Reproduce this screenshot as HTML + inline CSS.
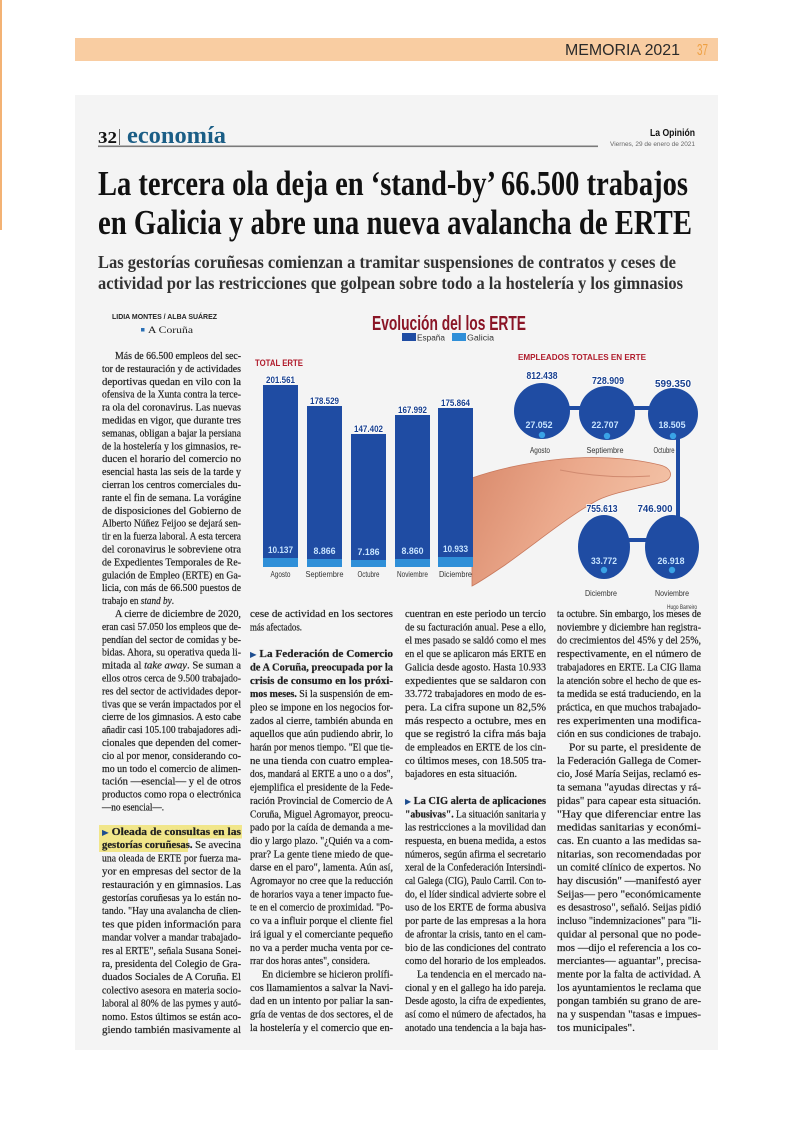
<!DOCTYPE html>
<html><head><meta charset="utf-8">
<style>
html,body{margin:0;padding:0;background:#fff;}
svg{display:block;}
.b{font-family:"Liberation Serif","DejaVu Serif",serif;font-size:10.5px;fill:#1e1e1e;stroke:#2a2a2a;stroke-width:0.22px;}
.bb{font-weight:bold;}
.s{font-family:"Liberation Sans","DejaVu Sans",sans-serif;}
.ar{font-family:"DejaVu Sans",sans-serif;fill:#1d4d8f;stroke:none;}
</style></head><body>
<svg width="794" height="1123" viewBox="0 0 794 1123" xmlns="http://www.w3.org/2000/svg">
<rect x="0" y="0" width="794" height="1123" fill="#ffffff"/>
<rect x="0" y="0" width="2" height="230" fill="#f3b274"/>
<!-- header bar -->
<rect x="75" y="38" width="643" height="23" fill="#f9cda2"/>
<text x="565" y="55" class="s" font-size="15.5" fill="#2a2a2a" textLength="115" lengthAdjust="spacingAndGlyphs">MEMORIA 2021</text>
<text x="697" y="55" class="s" font-size="15.5" fill="#eea043" textLength="11" lengthAdjust="spacingAndGlyphs">37</text>
<!-- clipping panel -->
<rect x="75" y="95" width="643" height="955" fill="#f4f4f4"/>
<!-- section header -->
<text x="98" y="143" font-family="Liberation Serif,serif" font-weight="bold" font-size="17" fill="#111" textLength="19" lengthAdjust="spacingAndGlyphs">32</text>
<rect x="119" y="129" width="1" height="16" fill="#666"/>
<text x="127" y="143" font-family="Liberation Serif,serif" font-weight="bold" font-size="24" fill="#1b5e86" textLength="99" lengthAdjust="spacingAndGlyphs">economía</text>
<rect x="98" y="145.5" width="500" height="1.6" fill="#7a7a7a"/>
<text x="695" y="136" text-anchor="end" class="s" font-weight="bold" font-size="10" fill="#111" textLength="45" lengthAdjust="spacingAndGlyphs">La Opinión</text>
<text x="695" y="146" text-anchor="end" class="s" font-size="6.5" fill="#666" textLength="85" lengthAdjust="spacingAndGlyphs">Viernes, 29 de enero de 2021</text>
<!-- headline -->
<text x="98" y="195" font-family="Liberation Serif,serif" font-weight="bold" font-size="35" fill="#111" textLength="590" lengthAdjust="spacingAndGlyphs">La tercera ola deja en ‘stand-by’ 66.500 trabajos</text>
<text x="98" y="234" font-family="Liberation Serif,serif" font-weight="bold" font-size="35" fill="#111" textLength="594" lengthAdjust="spacingAndGlyphs">en Galicia y abre una nueva avalancha de ERTE</text>
<text x="98" y="268" font-family="Liberation Serif,serif" font-weight="bold" font-size="18" fill="#333" textLength="578" lengthAdjust="spacingAndGlyphs">Las gestorías coruñesas comienzan a tramitar suspensiones de contratos y ceses de</text>
<text x="98" y="289" font-family="Liberation Serif,serif" font-weight="bold" font-size="18" fill="#333" textLength="585" lengthAdjust="spacingAndGlyphs">actividad por las restricciones que golpean sobre todo a la hostelería y los gimnasios</text>
<!-- byline -->
<text x="112" y="319" class="s" font-weight="bold" font-size="7" fill="#222" textLength="105" lengthAdjust="spacingAndGlyphs">LIDIA MONTES / ALBA SUÁREZ</text>
<rect x="141" y="328" width="3.5" height="3.5" fill="#2a6fb5"/>
<text x="148" y="333" font-family="Liberation Serif,serif" font-size="9.5" fill="#222" textLength="45" lengthAdjust="spacingAndGlyphs">A Coruña</text>

<!-- CHART -->
<text x="372" y="330" class="s" font-weight="bold" font-size="20" fill="#8a1526" textLength="154" lengthAdjust="spacingAndGlyphs">Evolución del los ERTE</text>
<rect x="402" y="333" width="14" height="8" fill="#1f4ca3"/>
<text x="417" y="340.5" class="s" font-size="8" fill="#333" textLength="28" lengthAdjust="spacingAndGlyphs">España</text>
<rect x="452" y="333" width="14" height="8" fill="#2f8fd8"/>
<text x="467" y="340.5" class="s" font-size="8" fill="#333" textLength="27" lengthAdjust="spacingAndGlyphs">Galicia</text>
<text x="255" y="366" class="s" font-weight="bold" font-size="9" fill="#b01c2c" textLength="48" lengthAdjust="spacingAndGlyphs">TOTAL ERTE</text>

<!-- hand -->
<defs>
<linearGradient id="sk" x1="0" y1="0" x2="1" y2="0.3">
<stop offset="0" stop-color="#d98a6c"/>
<stop offset="0.5" stop-color="#eba98c"/>
<stop offset="1" stop-color="#f3c2a6"/>
</linearGradient>
</defs>
<path d="M472,478 C500,468 540,460 575,458 C610,456 640,460 660,465 C673,468 674,479 663,482 C640,488 615,492 598,500 C570,515 540,540 505,565 C490,575 480,582 472,586 Z" fill="url(#sk)" stroke="#c8785c" stroke-width="0.8"/>
<path d="M560,470 C590,476 620,478 650,476" fill="none" stroke="#d08a70" stroke-width="1"/>

<!-- bars -->
<g fill="#1f4ca3">
<rect x="263" y="385" width="35" height="182"/>
<rect x="307" y="406" width="35" height="161"/>
<rect x="351" y="434" width="35" height="133"/>
<rect x="395" y="415" width="35" height="152"/>
<rect x="438" y="408" width="35" height="159"/>
</g>
<g fill="#2f8fd8">
<rect x="263" y="558" width="35" height="9"/>
<rect x="307" y="559" width="35" height="8"/>
<rect x="351" y="560" width="35" height="7"/>
<rect x="395" y="559" width="35" height="8"/>
<rect x="438" y="557" width="35" height="10"/>
</g>
<g class="s" font-weight="bold" font-size="9.5" fill="#173f8f" text-anchor="middle" stroke="#ffffff" stroke-width="1.5" paint-order="stroke">
<text x="280.5" y="383" textLength="29" lengthAdjust="spacingAndGlyphs">201.561</text>
<text x="324.5" y="404" textLength="29" lengthAdjust="spacingAndGlyphs">178.529</text>
<text x="368.5" y="432" textLength="29" lengthAdjust="spacingAndGlyphs">147.402</text>
<text x="412.5" y="413" textLength="29" lengthAdjust="spacingAndGlyphs">167.992</text>
<text x="455.5" y="406" textLength="29" lengthAdjust="spacingAndGlyphs">175.864</text>
</g>
<g class="s" font-weight="bold" font-size="9" fill="#c7e4ff" text-anchor="middle">
<text x="280.5" y="553" textLength="25" lengthAdjust="spacingAndGlyphs">10.137</text>
<text x="324.5" y="554" textLength="22" lengthAdjust="spacingAndGlyphs">8.866</text>
<text x="368.5" y="555" textLength="22" lengthAdjust="spacingAndGlyphs">7.186</text>
<text x="412.5" y="554" textLength="22" lengthAdjust="spacingAndGlyphs">8.860</text>
<text x="455.5" y="552" textLength="25" lengthAdjust="spacingAndGlyphs">10.933</text>
</g>
<g class="s" font-size="8" fill="#333" text-anchor="middle">
<text x="280.5" y="577" textLength="20" lengthAdjust="spacingAndGlyphs">Agosto</text>
<text x="324.5" y="577" textLength="38" lengthAdjust="spacingAndGlyphs">Septiembre</text>
<text x="368.5" y="577" textLength="22" lengthAdjust="spacingAndGlyphs">Octubre</text>
<text x="412.5" y="577" textLength="31" lengthAdjust="spacingAndGlyphs">Noviembre</text>
<text x="455.5" y="577" textLength="33" lengthAdjust="spacingAndGlyphs">Diciembre</text>
</g>

<!-- circles -->
<text x="518" y="360" class="s" font-weight="bold" font-size="8.5" fill="#b01c2c" textLength="128" lengthAdjust="spacingAndGlyphs">EMPLEADOS TOTALES EN ERTE</text>
<g fill="#1f4ca3">
<rect x="566" y="406" width="18" height="4"/>
<rect x="631" y="406" width="20" height="4"/>
<rect x="676" y="438" width="4" height="80"/>
<rect x="628" y="538" width="22" height="4"/>
<ellipse cx="542" cy="411" rx="28" ry="28"/>
<ellipse cx="607" cy="413" rx="28" ry="27"/>
<ellipse cx="673" cy="414" rx="25" ry="26"/>
<ellipse cx="604" cy="547" rx="26" ry="32"/>
<ellipse cx="672" cy="547" rx="27" ry="32"/>
</g>
<g fill="#3aa3e6">
<circle cx="542" cy="435" r="3.2"/>
<circle cx="607" cy="436" r="3.2"/>
<circle cx="673" cy="436" r="3.2"/>
<circle cx="604" cy="570" r="3.2"/>
<circle cx="672" cy="570" r="3.2"/>
</g>
<g class="s" font-weight="bold" font-size="10" fill="#173f8f" text-anchor="middle" stroke="#ffffff" stroke-width="1.5" paint-order="stroke">
<text x="542" y="379" textLength="31" lengthAdjust="spacingAndGlyphs">812.438</text>
<text x="608" y="384" textLength="32" lengthAdjust="spacingAndGlyphs">728.909</text>
<text x="673" y="387" textLength="36" lengthAdjust="spacingAndGlyphs">599.350</text>
<text x="602" y="512" textLength="31" lengthAdjust="spacingAndGlyphs">755.613</text>
<text x="655" y="512" textLength="35" lengthAdjust="spacingAndGlyphs">746.900</text>
</g>
<g class="s" font-weight="bold" font-size="9" fill="#c7e4ff" text-anchor="middle">
<text x="539" y="428" textLength="27" lengthAdjust="spacingAndGlyphs">27.052</text>
<text x="605" y="428" textLength="27" lengthAdjust="spacingAndGlyphs">22.707</text>
<text x="672" y="428" textLength="27" lengthAdjust="spacingAndGlyphs">18.505</text>
<text x="604" y="564" textLength="26" lengthAdjust="spacingAndGlyphs">33.772</text>
<text x="671" y="564" textLength="27" lengthAdjust="spacingAndGlyphs">26.918</text>
</g>
<g class="s" font-size="8" fill="#333" text-anchor="middle">
<text x="540" y="453" textLength="20" lengthAdjust="spacingAndGlyphs">Agosto</text>
<text x="605" y="453" textLength="37" lengthAdjust="spacingAndGlyphs">Septiembre</text>
<text x="664" y="453" textLength="21" lengthAdjust="spacingAndGlyphs">Octubre</text>
<text x="601" y="596" textLength="32" lengthAdjust="spacingAndGlyphs">Diciembre</text>
<text x="672" y="596" textLength="34" lengthAdjust="spacingAndGlyphs">Noviembre</text>
</g>
<text x="682" y="609" text-anchor="middle" class="s" font-size="6.5" fill="#333" textLength="30" lengthAdjust="spacingAndGlyphs">Hugo Barreiro</text>

<!-- COLUMN 1 upper -->
<text class="b" x="115" y="359" textLength="126" lengthAdjust="spacingAndGlyphs">Más de 66.500 empleos del sec-</text>
<text class="b" x="102" y="371.9" textLength="139" lengthAdjust="spacingAndGlyphs">tor de restauración y de actividades</text>
<text class="b" x="102" y="384.8" textLength="139" lengthAdjust="spacingAndGlyphs">deportivas quedan en vilo con la</text>
<text class="b" x="102" y="397.7" textLength="139" lengthAdjust="spacingAndGlyphs">ofensiva de la Xunta contra la terce-</text>
<text class="b" x="102" y="410.6" textLength="139" lengthAdjust="spacingAndGlyphs">ra ola del coronavirus. Las nuevas</text>
<text class="b" x="102" y="423.5" textLength="139" lengthAdjust="spacingAndGlyphs">medidas en vigor, que durante tres</text>
<text class="b" x="102" y="436.4" textLength="139" lengthAdjust="spacingAndGlyphs">semanas, obligan a bajar la persiana</text>
<text class="b" x="102" y="449.3" textLength="139" lengthAdjust="spacingAndGlyphs">de la hostelería y los gimnasios, re-</text>
<text class="b" x="102" y="462.2" textLength="139" lengthAdjust="spacingAndGlyphs">ducen el horario del comercio no</text>
<text class="b" x="102" y="475.1" textLength="139" lengthAdjust="spacingAndGlyphs">esencial hasta las seis de la tarde y</text>
<text class="b" x="102" y="488" textLength="139" lengthAdjust="spacingAndGlyphs">cierran los centros comerciales du-</text>
<text class="b" x="102" y="500.9" textLength="139" lengthAdjust="spacingAndGlyphs">rante el fin de semana. La vorágine</text>
<text class="b" x="102" y="513.8" textLength="139" lengthAdjust="spacingAndGlyphs">de disposiciones del Gobierno de</text>
<text class="b" x="102" y="526.7" textLength="139" lengthAdjust="spacingAndGlyphs">Alberto Núñez Feijoo se dejará sen-</text>
<text class="b" x="102" y="539.6" textLength="139" lengthAdjust="spacingAndGlyphs">tir en la fuerza laboral. A esta tercera</text>
<text class="b" x="102" y="552.5" textLength="139" lengthAdjust="spacingAndGlyphs">del coronavirus le sobreviene otra</text>
<text class="b" x="102" y="565.4" textLength="139" lengthAdjust="spacingAndGlyphs">de Expedientes Temporales de Re-</text>
<text class="b" x="102" y="578.3" textLength="139" lengthAdjust="spacingAndGlyphs">gulación de Empleo (ERTE) en Ga-</text>
<text class="b" x="102" y="591.2" textLength="139" lengthAdjust="spacingAndGlyphs">licia, con más de 66.500 puestos de</text>
<text class="b" x="102" y="604.1" textLength="72" lengthAdjust="spacingAndGlyphs">trabajo en <tspan font-style="italic">stand by</tspan>.</text>

<!-- COLUMN 1 lower -->
<text class="b" x="115" y="617" textLength="126" lengthAdjust="spacingAndGlyphs">A cierre de diciembre de 2020,</text>
<text class="b" x="102" y="629.9" textLength="139" lengthAdjust="spacingAndGlyphs">eran casi 57.050 los empleos que de-</text>
<text class="b" x="102" y="642.8" textLength="139" lengthAdjust="spacingAndGlyphs">pendían del sector de comidas y be-</text>
<text class="b" x="102" y="655.7" textLength="139" lengthAdjust="spacingAndGlyphs">bidas. Ahora, su operativa queda li-</text>
<text class="b" x="102" y="668.6" textLength="139" lengthAdjust="spacingAndGlyphs">mitada al <tspan font-style="italic">take away</tspan>. Se suman a</text>
<text class="b" x="102" y="681.5" textLength="139" lengthAdjust="spacingAndGlyphs">ellos otros cerca de 9.500 trabajado-</text>
<text class="b" x="102" y="694.4" textLength="139" lengthAdjust="spacingAndGlyphs">res del sector de actividades depor-</text>
<text class="b" x="102" y="707.3" textLength="139" lengthAdjust="spacingAndGlyphs">tivas que se verán impactados por el</text>
<text class="b" x="102" y="720.2" textLength="139" lengthAdjust="spacingAndGlyphs">cierre de los gimnasios. A esto cabe</text>
<text class="b" x="102" y="733.1" textLength="139" lengthAdjust="spacingAndGlyphs">añadir casi 105.100 trabajadores adi-</text>
<text class="b" x="102" y="746" textLength="139" lengthAdjust="spacingAndGlyphs">cionales que dependen del comer-</text>
<text class="b" x="102" y="758.9" textLength="139" lengthAdjust="spacingAndGlyphs">cio al por menor, considerando co-</text>
<text class="b" x="102" y="771.8" textLength="139" lengthAdjust="spacingAndGlyphs">mo un todo el comercio de alimen-</text>
<text class="b" x="102" y="784.7" textLength="139" lengthAdjust="spacingAndGlyphs">tación —esencial— y el de otros</text>
<text class="b" x="102" y="797.6" textLength="139" lengthAdjust="spacingAndGlyphs">productos como ropa o electrónica</text>
<text class="b" x="102" y="810.5" textLength="62" lengthAdjust="spacingAndGlyphs">—no esencial—.</text>

<!-- Oleada -->
<rect x="99" y="825" width="143" height="13.5" fill="#f1e68a"/>
<rect x="99" y="838.5" width="89" height="13.5" fill="#f1e68a"/>
<text class="b" x="102" y="835" textLength="139" lengthAdjust="spacingAndGlyphs"><tspan class="ar" font-size="8">▶</tspan><tspan class="bb"> Oleada de consultas en las</tspan></text>
<text class="b" x="102" y="848.2" textLength="139" lengthAdjust="spacingAndGlyphs"><tspan class="bb">gestorías coruñesas.</tspan> Se avecina</text>
<text class="b" x="102" y="861.4" textLength="139" lengthAdjust="spacingAndGlyphs">una oleada de ERTE por fuerza ma-</text>
<text class="b" x="102" y="874.6" textLength="139" lengthAdjust="spacingAndGlyphs">yor en empresas del sector de la</text>
<text class="b" x="102" y="887.8" textLength="139" lengthAdjust="spacingAndGlyphs">restauración y en gimnasios. Las</text>
<text class="b" x="102" y="901" textLength="139" lengthAdjust="spacingAndGlyphs">gestorías coruñesas ya lo están no-</text>
<text class="b" x="102" y="914.2" textLength="139" lengthAdjust="spacingAndGlyphs">tando. "Hay una avalancha de clien-</text>
<text class="b" x="102" y="927.4" textLength="139" lengthAdjust="spacingAndGlyphs">tes que piden información para</text>
<text class="b" x="102" y="940.6" textLength="139" lengthAdjust="spacingAndGlyphs">mandar volver a mandar trabajado-</text>
<text class="b" x="102" y="953.8" textLength="139" lengthAdjust="spacingAndGlyphs">res al ERTE", señala Susana Sonei-</text>
<text class="b" x="102" y="967" textLength="139" lengthAdjust="spacingAndGlyphs">ra, presidenta del Colegio de Gra-</text>
<text class="b" x="102" y="980.2" textLength="139" lengthAdjust="spacingAndGlyphs">duados Sociales de A Coruña. El</text>
<text class="b" x="102" y="993.4" textLength="139" lengthAdjust="spacingAndGlyphs">colectivo asesora en materia socio-</text>
<text class="b" x="102" y="1006.6" textLength="139" lengthAdjust="spacingAndGlyphs">laboral al 80% de las pymes y autó-</text>
<text class="b" x="102" y="1019.8" textLength="139" lengthAdjust="spacingAndGlyphs">nomo. Estos últimos se están aco-</text>
<text class="b" x="102" y="1033" textLength="139" lengthAdjust="spacingAndGlyphs">giendo también masivamente al</text>

<!-- COLUMN 2 -->
<text class="b" x="250" y="617" textLength="143" lengthAdjust="spacingAndGlyphs">cese de actividad en los sectores</text>
<text class="b" x="250" y="630.35" textLength="52" lengthAdjust="spacingAndGlyphs">más afectados.</text>
<text class="b" x="250" y="657.05" textLength="143" lengthAdjust="spacingAndGlyphs"><tspan class="ar" font-size="8">▶</tspan><tspan class="bb"> La Federación de Comercio</tspan></text>
<text class="b bb" x="250" y="670.4" textLength="143" lengthAdjust="spacingAndGlyphs">de A Coruña, preocupada por la</text>
<text class="b bb" x="250" y="683.75" textLength="143" lengthAdjust="spacingAndGlyphs">crisis de consumo en los próxi-</text>
<text class="b" x="250" y="697.1" textLength="143" lengthAdjust="spacingAndGlyphs"><tspan class="bb">mos meses.</tspan> Si la suspensión de em-</text>
<text class="b" x="250" y="710.45" textLength="143" lengthAdjust="spacingAndGlyphs">pleo se impone en los negocios for-</text>
<text class="b" x="250" y="723.8" textLength="143" lengthAdjust="spacingAndGlyphs">zados al cierre, también abunda en</text>
<text class="b" x="250" y="737.15" textLength="143" lengthAdjust="spacingAndGlyphs">aquellos que aún pudiendo abrir, lo</text>
<text class="b" x="250" y="750.5" textLength="143" lengthAdjust="spacingAndGlyphs">harán por menos tiempo. "El que tie-</text>
<text class="b" x="250" y="763.85" textLength="143" lengthAdjust="spacingAndGlyphs">ne una tienda con cuatro emplea-</text>
<text class="b" x="250" y="777.2" textLength="143" lengthAdjust="spacingAndGlyphs">dos, mandará al ERTE a uno o a dos",</text>
<text class="b" x="250" y="790.55" textLength="143" lengthAdjust="spacingAndGlyphs">ejemplifica el presidente de la Fede-</text>
<text class="b" x="250" y="803.9" textLength="143" lengthAdjust="spacingAndGlyphs">ración Provincial de Comercio de A</text>
<text class="b" x="250" y="817.25" textLength="143" lengthAdjust="spacingAndGlyphs">Coruña, Miguel Agromayor, preocu-</text>
<text class="b" x="250" y="830.6" textLength="143" lengthAdjust="spacingAndGlyphs">pado por la caída de demanda a me-</text>
<text class="b" x="250" y="843.95" textLength="143" lengthAdjust="spacingAndGlyphs">dio y largo plazo. "¿Quién va a com-</text>
<text class="b" x="250" y="857.3" textLength="143" lengthAdjust="spacingAndGlyphs">prar? La gente tiene miedo de que-</text>
<text class="b" x="250" y="870.65" textLength="143" lengthAdjust="spacingAndGlyphs">darse en el paro", lamenta. Aún así,</text>
<text class="b" x="250" y="884" textLength="143" lengthAdjust="spacingAndGlyphs">Agromayor no cree que la reducción</text>
<text class="b" x="250" y="897.35" textLength="143" lengthAdjust="spacingAndGlyphs">de horarios vaya a tener impacto fue-</text>
<text class="b" x="250" y="910.7" textLength="143" lengthAdjust="spacingAndGlyphs">te en el comercio de proximidad. "Po-</text>
<text class="b" x="250" y="924.05" textLength="143" lengthAdjust="spacingAndGlyphs">co va a influir porque el cliente fiel</text>
<text class="b" x="250" y="937.4" textLength="143" lengthAdjust="spacingAndGlyphs">irá igual y el comerciante pequeño</text>
<text class="b" x="250" y="950.75" textLength="143" lengthAdjust="spacingAndGlyphs">no va a perder mucha venta por ce-</text>
<text class="b" x="250" y="964.1" textLength="120" lengthAdjust="spacingAndGlyphs">rrar dos horas antes", considera.</text>
<text class="b" x="262" y="977.45" textLength="131" lengthAdjust="spacingAndGlyphs">En diciembre se hicieron prolífi-</text>
<text class="b" x="250" y="990.8" textLength="143" lengthAdjust="spacingAndGlyphs">cos llamamientos a salvar la Navi-</text>
<text class="b" x="250" y="1004.15" textLength="143" lengthAdjust="spacingAndGlyphs">dad en un intento por paliar la san-</text>
<text class="b" x="250" y="1017.5" textLength="143" lengthAdjust="spacingAndGlyphs">gría de ventas de dos sectores, el de</text>
<text class="b" x="250" y="1030.85" textLength="143" lengthAdjust="spacingAndGlyphs">la hostelería y el comercio que en-</text>

<!-- COLUMN 3 -->
<text class="b" x="405" y="617" textLength="141" lengthAdjust="spacingAndGlyphs">cuentran en este periodo un tercio</text>
<text class="b" x="405" y="630.35" textLength="141" lengthAdjust="spacingAndGlyphs">de su facturación anual. Pese a ello,</text>
<text class="b" x="405" y="643.7" textLength="141" lengthAdjust="spacingAndGlyphs">el mes pasado se saldó como el mes</text>
<text class="b" x="405" y="657.05" textLength="141" lengthAdjust="spacingAndGlyphs">en el que se aplicaron más ERTE en</text>
<text class="b" x="405" y="670.4" textLength="141" lengthAdjust="spacingAndGlyphs">Galicia desde agosto. Hasta 10.933</text>
<text class="b" x="405" y="683.75" textLength="141" lengthAdjust="spacingAndGlyphs">expedientes que se saldaron con</text>
<text class="b" x="405" y="697.1" textLength="141" lengthAdjust="spacingAndGlyphs">33.772 trabajadores en modo de es-</text>
<text class="b" x="405" y="710.45" textLength="141" lengthAdjust="spacingAndGlyphs">pera. La cifra supone un 82,5%</text>
<text class="b" x="405" y="723.8" textLength="141" lengthAdjust="spacingAndGlyphs">más respecto a octubre, mes en</text>
<text class="b" x="405" y="737.15" textLength="141" lengthAdjust="spacingAndGlyphs">que se registró la cifra más baja</text>
<text class="b" x="405" y="750.5" textLength="141" lengthAdjust="spacingAndGlyphs">de empleados en ERTE de los cin-</text>
<text class="b" x="405" y="763.85" textLength="141" lengthAdjust="spacingAndGlyphs">co últimos meses, con 18.505 tra-</text>
<text class="b" x="405" y="777.2" textLength="112" lengthAdjust="spacingAndGlyphs">bajadores en esta situación.</text>
<text class="b" x="405" y="803.9" textLength="141" lengthAdjust="spacingAndGlyphs"><tspan class="ar" font-size="8">▶</tspan><tspan class="bb"> La CIG alerta de aplicaciones</tspan></text>
<text class="b" x="405" y="817.25" textLength="141" lengthAdjust="spacingAndGlyphs"><tspan class="bb">"abusivas".</tspan> La situación sanitaria y</text>
<text class="b" x="405" y="830.6" textLength="141" lengthAdjust="spacingAndGlyphs">las restricciones a la movilidad dan</text>
<text class="b" x="405" y="843.95" textLength="141" lengthAdjust="spacingAndGlyphs">respuesta, en buena medida, a estos</text>
<text class="b" x="405" y="857.3" textLength="141" lengthAdjust="spacingAndGlyphs">números, según afirma el secretario</text>
<text class="b" x="405" y="870.65" textLength="141" lengthAdjust="spacingAndGlyphs">xeral de la Confederación Intersindi-</text>
<text class="b" x="405" y="884" textLength="141" lengthAdjust="spacingAndGlyphs">cal Galega (CIG), Paulo Carril. Con to-</text>
<text class="b" x="405" y="897.35" textLength="141" lengthAdjust="spacingAndGlyphs">do, el líder sindical advierte sobre el</text>
<text class="b" x="405" y="910.7" textLength="141" lengthAdjust="spacingAndGlyphs">uso de los ERTE de forma abusiva</text>
<text class="b" x="405" y="924.05" textLength="141" lengthAdjust="spacingAndGlyphs">por parte de las empresas a la hora</text>
<text class="b" x="405" y="937.4" textLength="141" lengthAdjust="spacingAndGlyphs">de afrontar la crisis, tanto en el cam-</text>
<text class="b" x="405" y="950.75" textLength="141" lengthAdjust="spacingAndGlyphs">bio de las condiciones del contrato</text>
<text class="b" x="405" y="964.1" textLength="141" lengthAdjust="spacingAndGlyphs">como del horario de los empleados.</text>
<text class="b" x="417" y="977.45" textLength="129" lengthAdjust="spacingAndGlyphs">La tendencia en el mercado na-</text>
<text class="b" x="405" y="990.8" textLength="141" lengthAdjust="spacingAndGlyphs">cional y en el gallego ha ido pareja.</text>
<text class="b" x="405" y="1004.15" textLength="141" lengthAdjust="spacingAndGlyphs">Desde agosto, la cifra de expedientes,</text>
<text class="b" x="405" y="1017.5" textLength="141" lengthAdjust="spacingAndGlyphs">así como el número de afectados, ha</text>
<text class="b" x="405" y="1030.85" textLength="141" lengthAdjust="spacingAndGlyphs">anotado una tendencia a la baja has-</text>

<!-- COLUMN 4 -->
<text class="b" x="557" y="617" textLength="144" lengthAdjust="spacingAndGlyphs">ta octubre. Sin embargo, los meses de</text>
<text class="b" x="557" y="630.35" textLength="144" lengthAdjust="spacingAndGlyphs">noviembre y diciembre han registra-</text>
<text class="b" x="557" y="643.7" textLength="144" lengthAdjust="spacingAndGlyphs">do crecimientos del 45% y del 25%,</text>
<text class="b" x="557" y="657.05" textLength="144" lengthAdjust="spacingAndGlyphs">respectivamente, en el número de</text>
<text class="b" x="557" y="670.4" textLength="144" lengthAdjust="spacingAndGlyphs">trabajadores en ERTE. La CIG llama</text>
<text class="b" x="557" y="683.75" textLength="144" lengthAdjust="spacingAndGlyphs">la atención sobre el hecho de que es-</text>
<text class="b" x="557" y="697.1" textLength="144" lengthAdjust="spacingAndGlyphs">ta medida se está traduciendo, en la</text>
<text class="b" x="557" y="710.45" textLength="144" lengthAdjust="spacingAndGlyphs">práctica, en que muchos trabajado-</text>
<text class="b" x="557" y="723.8" textLength="144" lengthAdjust="spacingAndGlyphs">res experimenten una modifica-</text>
<text class="b" x="557" y="737.15" textLength="144" lengthAdjust="spacingAndGlyphs">ción en sus condiciones de trabajo.</text>
<text class="b" x="569" y="750.5" textLength="132" lengthAdjust="spacingAndGlyphs">Por su parte, el presidente de</text>
<text class="b" x="557" y="763.85" textLength="144" lengthAdjust="spacingAndGlyphs">la Federación Gallega de Comer-</text>
<text class="b" x="557" y="777.2" textLength="144" lengthAdjust="spacingAndGlyphs">cio, José María Seijas, reclamó es-</text>
<text class="b" x="557" y="790.55" textLength="144" lengthAdjust="spacingAndGlyphs">ta semana "ayudas directas y rá-</text>
<text class="b" x="557" y="803.9" textLength="144" lengthAdjust="spacingAndGlyphs">pidas" para capear esta situación.</text>
<text class="b" x="557" y="817.25" textLength="144" lengthAdjust="spacingAndGlyphs">"Hay que diferenciar entre las</text>
<text class="b" x="557" y="830.6" textLength="144" lengthAdjust="spacingAndGlyphs">medidas sanitarias y económi-</text>
<text class="b" x="557" y="843.95" textLength="144" lengthAdjust="spacingAndGlyphs">cas. En cuanto a las medidas sa-</text>
<text class="b" x="557" y="857.3" textLength="144" lengthAdjust="spacingAndGlyphs">nitarias, son recomendadas por</text>
<text class="b" x="557" y="870.65" textLength="144" lengthAdjust="spacingAndGlyphs">un comité clínico de expertos. No</text>
<text class="b" x="557" y="884" textLength="144" lengthAdjust="spacingAndGlyphs">hay discusión" —manifestó ayer</text>
<text class="b" x="557" y="897.35" textLength="144" lengthAdjust="spacingAndGlyphs">Seijas— pero "económicamente</text>
<text class="b" x="557" y="910.7" textLength="144" lengthAdjust="spacingAndGlyphs">es desastroso", señaló. Seijas pidió</text>
<text class="b" x="557" y="924.05" textLength="144" lengthAdjust="spacingAndGlyphs">incluso "indemnizaciones" para "li-</text>
<text class="b" x="557" y="937.4" textLength="144" lengthAdjust="spacingAndGlyphs">quidar al personal que no pode-</text>
<text class="b" x="557" y="950.75" textLength="144" lengthAdjust="spacingAndGlyphs">mos —dijo el referencia a los co-</text>
<text class="b" x="557" y="964.1" textLength="144" lengthAdjust="spacingAndGlyphs">merciantes— aguantar", precisa-</text>
<text class="b" x="557" y="977.45" textLength="144" lengthAdjust="spacingAndGlyphs">mente por la falta de actividad. A</text>
<text class="b" x="557" y="990.8" textLength="144" lengthAdjust="spacingAndGlyphs">los ayuntamientos le reclama que</text>
<text class="b" x="557" y="1004.15" textLength="144" lengthAdjust="spacingAndGlyphs">pongan también su grano de are-</text>
<text class="b" x="557" y="1017.5" textLength="144" lengthAdjust="spacingAndGlyphs">na y suspendan "tasas e impues-</text>
<text class="b" x="557" y="1030.85" textLength="78" lengthAdjust="spacingAndGlyphs">tos municipales".</text>
</svg>
</body></html>
